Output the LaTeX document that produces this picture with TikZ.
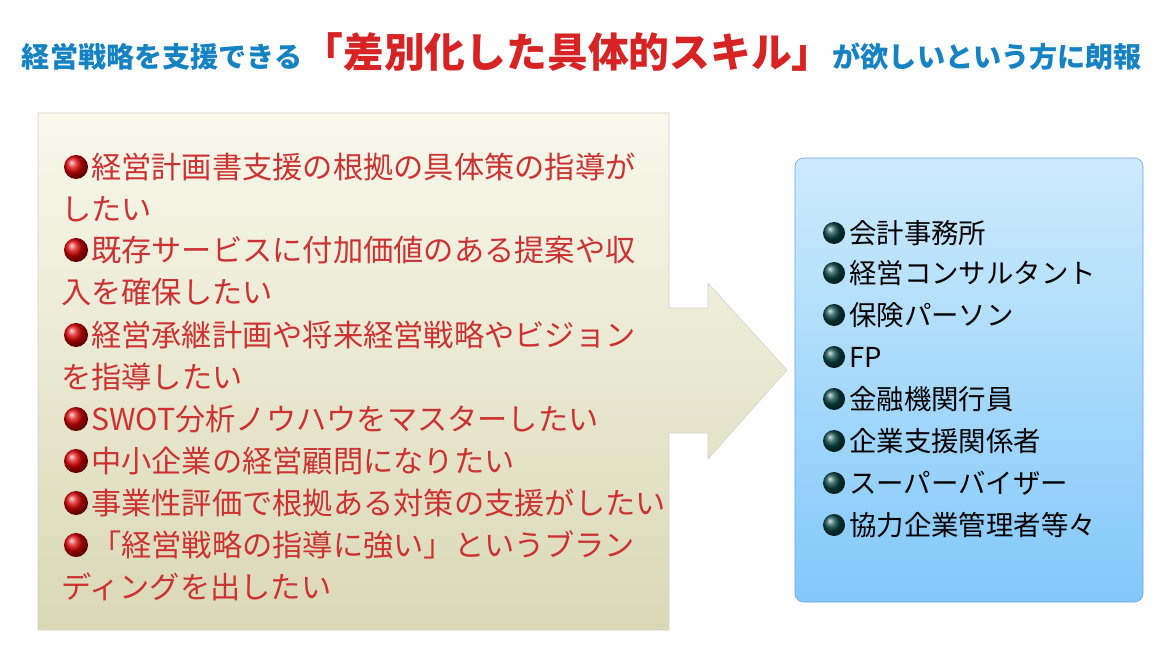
\documentclass[tikz,border=0pt]{standalone}
\usepackage{fontspec}
\setmainfont{Noto Sans CJK JP}
\newfontfamily\jpbold{Noto Sans CJK JP Black}
\usetikzlibrary{calc}
\definecolor{itemred}{RGB}{205,50,50}
\definecolor{titleblue}{RGB}{20,130,195}
\definecolor{titlered}{RGB}{215,35,35}
\definecolor{dotteal}{RGB}{10,70,70}
\definecolor{arrowtop}{RGB}{248,248,236}
\definecolor{arrowbot}{RGB}{218,216,182}
\definecolor{boxtop}{RGB}{205,235,252}
\definecolor{boxbot}{RGB}{130,200,250}
\tikzset{
  leftline/.style={anchor=west, inner sep=0pt, text=itemred, font=\fontsize{21.5}{22}\selectfont},
  rightline/.style={anchor=west, inner sep=0pt, text=black, font=\fontsize{19.5}{20}\selectfont},
  reddot/.style={circle, inner sep=0pt, minimum size=0.6cm, ball color=red!85!black},
  tealdot/.style={circle, inner sep=0pt, minimum size=0.55cm, ball color=dotteal}
}
\begin{document}
\begin{tikzpicture}[x=0.025cm, y=-0.025cm]
        \useasboundingbox (0,0) rectangle (1170,669);

        % title
        \node[inner sep=0pt, anchor=base] (title) at (582,68) {\jpbold
            {\color{titleblue}\fontsize{20}{21}\selectfont 経営戦略を支援できる}%
            {\color{titlered}\fontsize{29}{30}\selectfont 「差別化した具体的スキル」}%
            {\color{titleblue}\fontsize{20}{21}\selectfont が欲しいという方に朗報}};

        % arrow
        \draw[black!18, top color=arrowtop, bottom color=arrowbot]
            (38,113)--(669,113)--(669,308)--(708,308)--(708,283)--(787,370)
            --(708,459)--(708,433)--(669,433)--(669,630)--(38,630)--cycle;

        % box
        \draw[rounded corners=6pt, boxbot!80!blue, top color=boxtop, bottom color=boxbot]
            (795,158) rectangle (1143,602);

        % left items
        \foreach \y/\txt/\b in {167/経営計画書支援の根拠の具体策の指導が/1, 209/したい/0,
            250/既存サービスに付加価値のある提案や収/1, 292/入を確保したい/0,
            335/経営承継計画や将来経営戦略やビジョン/1, 377/を指導したい/0,
            419/SWOT分析ノウハウをマスターしたい/1, 461/中小企業の経営顧問になりたい/1,
            503/事業性評価で根拠ある対策の支援がしたい/1, 545/「経営戦略の指導に強い」というブラン/1,
            587/ディングを出したい/0} {
            \ifnum\b=1
                \node[reddot] (ldot\y) at (76,\y) {};
                \node[leftline] (litem\y) at (91,\y) {\txt};
            \else
                \node[leftline] (litem\y) at (61,\y) {\txt};
            \fi
        }

        % right items
        \foreach \y/\txt in {233/会計事務所, 273/経営コンサルタント, 315/保険パーソン, 357/FP,
            399/金融機関行員, 441/企業支援関係者, 483/スーパーバイザー, 525/協力企業管理者等々} {
            \node[tealdot] (rdot\y) at (834,\y) {};
            \node[rightline] (ritem\y) at (849,\y) {\txt};
        }
    \end{tikzpicture}
\end{document}
